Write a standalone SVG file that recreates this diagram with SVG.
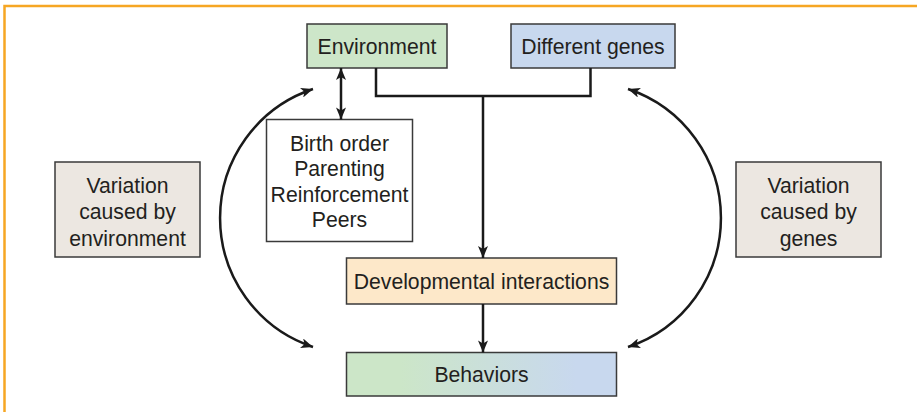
<svg xmlns="http://www.w3.org/2000/svg" width="917" height="412" viewBox="0 0 917 412">
  <style>
    .box { stroke: #3a3a3a; stroke-width: 1.5; }
    .lbl { font-family: "Liberation Sans", Arial, sans-serif; font-size: 21.2px; fill: #231f20; text-anchor: middle; }
    .wire { fill: none; stroke: #1a1a1a; stroke-width: 2.5; }
  </style>
  <defs>
    <marker id="arr" viewBox="0 0 12 10" refX="12" refY="5" markerWidth="13" markerHeight="10" markerUnits="userSpaceOnUse" orient="auto-start-reverse">
      <path d="M0,0 L12,5 L0,10 L3,5 z" fill="#1a1a1a"/>
    </marker>
    <linearGradient id="behavGrad" x1="0" y1="0" x2="1" y2="0">
      <stop offset="0.2" stop-color="#cce6c8"/>
      <stop offset="0.85" stop-color="#c8d8ee"/>
    </linearGradient>
  </defs>

  <!-- frame -->
  <path d="M4.5,412 V6 H917" fill="none" stroke="#f6a623" stroke-width="2.5"/>

  <g id="environment">
    <rect class="box" x="307" y="24" width="140" height="44" fill="#cde6c9"/>
    <text class="lbl" x="377" y="53.5">Environment</text>
  </g>

  <g id="different-genes">
    <rect class="box" x="511" y="24" width="164" height="44" fill="#c8d8ee"/>
    <text class="lbl" x="593" y="53.5">Different genes</text>
  </g>

  <g id="environment-factors">
    <rect class="box" x="266.5" y="119.5" width="146" height="122" fill="#ffffff"/>
    <text class="lbl" x="339.5" y="150.5">Birth order</text>
    <text class="lbl" x="339.5" y="176">Parenting</text>
    <text class="lbl" x="339.5" y="201.5">Reinforcement</text>
    <text class="lbl" x="339.5" y="227">Peers</text>
  </g>

  <g id="variation-environment">
    <rect class="box" x="55" y="162" width="145" height="95" fill="#ece7e1"/>
    <text class="lbl" x="127.5" y="192.5">Variation</text>
    <text class="lbl" x="127.5" y="219">caused by</text>
    <text class="lbl" x="127.5" y="245.5">environment</text>
  </g>

  <g id="variation-genes">
    <rect class="box" x="736" y="162" width="145" height="95" fill="#ece7e1"/>
    <text class="lbl" x="808.5" y="192.5">Variation</text>
    <text class="lbl" x="808.5" y="219">caused by</text>
    <text class="lbl" x="808.5" y="245.5">genes</text>
  </g>

  <g id="developmental-interactions">
    <rect class="box" x="346.5" y="258" width="270" height="46" fill="#fde8c9"/>
    <text class="lbl" x="481.5" y="288.5">Developmental interactions</text>
  </g>

  <g id="behaviors">
    <rect class="box" x="346.5" y="352.5" width="270" height="43.5" fill="url(#behavGrad)"/>
    <text class="lbl" x="481.5" y="381.5">Behaviors</text>
  </g>

  <g id="connectors">
    <!-- environment and genes merge -->
    <path class="wire" d="M376,68 V96 H590.5 V68"/>
    <path class="wire" d="M483,96 V258" marker-end="url(#arr)"/>
    <!-- environment <-> factors -->
    <path class="wire" d="M341,68 V119.5" marker-start="url(#arr)" marker-end="url(#arr)"/>
    <!-- developmental -> behaviors -->
    <path class="wire" d="M483,304 V352.5" marker-end="url(#arr)"/>
    <!-- variation arcs -->
    <path class="wire" d="M313,89 A136,136 0 0 0 313,347" marker-start="url(#arr)" marker-end="url(#arr)"/>
    <path class="wire" d="M628,89 A136,136 0 0 1 628,347" marker-start="url(#arr)" marker-end="url(#arr)"/>
  </g>
</svg>
